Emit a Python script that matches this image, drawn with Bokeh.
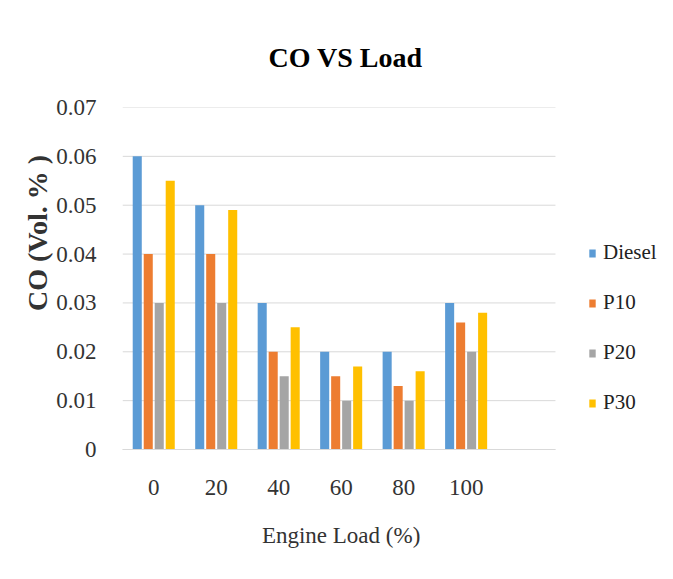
from bokeh.plotting import figure
from bokeh.models import ColumnDataSource, Legend, LegendItem, FixedTicker, NumeralTickFormatter, Range1d
from bokeh.embed import file_html
from bokeh.resources import INLINE

loads = ["0", "20", "40", "60", "80", "100"]
diesel = [0.06, 0.05, 0.03, 0.02, 0.02, 0.03]
p10 = [0.04, 0.04, 0.02, 0.015, 0.013, 0.026]
p20 = [0.03, 0.03, 0.015, 0.01, 0.01, 0.02]
p30 = [0.055, 0.049, 0.025, 0.017, 0.016, 0.028]
series_names = ["Diesel", "P10", "P20", "P30"]
colors = ["#5B9BD5", "#ED7D31", "#A5A5A5", "#FFC000"]
y_ticks = [0, 0.01, 0.02, 0.03, 0.04, 0.05, 0.06, 0.07]

FONT = "Liberation Serif"
X0, X1 = -0.5, 6.43  # extent of the category area (gridlines)

p = figure(width=657, height=563, output_backend="svg", toolbar_location=None,
           x_range=Range1d(X0, 8.063), y_range=Range1d(0, 0.07),
           min_border_left=122, min_border_right=0, min_border_top=107, min_border_bottom=114)
p.title.text = "CO VS Load"
p.title.align = "left"
p.title.offset = 146
p.title.text_font = FONT
p.title.text_font_size = "28px"
p.title.text_font_style = "bold"
p.title.text_color = "#000000"
p.title.standoff = 70
p.outline_line_color = None

# horizontal gridlines limited to the category area
p.segment(x0=[X0] * len(y_ticks), x1=[X1] * len(y_ticks), y0=y_ticks, y1=y_ticks,
          line_color="#d9d9d9", line_width=1)

idx = list(range(len(loads)))
step = 0.176
bw = 0.145
all_series = [diesel, p10, p20, p30]
items = []
for k, (name, vals, col) in enumerate(zip(series_names, all_series, colors)):
    src = ColumnDataSource(dict(x=[i + (k - 1.5) * step for i in idx], top=vals))
    r = p.vbar(x="x", top="top", width=bw, source=src, fill_color=col, line_color=None)
    items.append(LegendItem(label=name, renderers=[r]))

legend = Legend(items=items, location=(466, 34), orientation="vertical",
                label_text_font=FONT, label_text_font_size="21px", label_text_color="#222222",
                glyph_width=8, glyph_height=10, label_standoff=7, label_height=24,
                spacing=25, padding=0, margin=0, border_line_color=None, background_fill_alpha=0)
p.add_layout(legend, "center")

p.xaxis.ticker = FixedTicker(ticks=idx)
p.xaxis.major_label_overrides = {i: l for i, l in zip(idx, loads)}
p.xaxis.bounds = (X0, X1)
p.yaxis.ticker = FixedTicker(ticks=y_ticks)
p.yaxis.formatter = NumeralTickFormatter(format="0.[00]")

for ax in (p.xaxis, p.yaxis):
    ax.major_label_text_font = FONT
    ax.major_label_text_font_size = "23px"
    ax.major_label_text_color = "#333333"
    ax.axis_label_text_font = FONT
    ax.axis_label_text_color = "#333333"
    ax.major_tick_line_color = None
    ax.minor_tick_line_color = None
    ax.axis_line_color = None

p.xaxis.axis_line_color = "#d9d9d9"
p.xaxis.major_label_standoff = 24
p.xaxis.axis_label = "Engine Load (%)" + "\u00a0" * 17
p.xaxis.axis_label_text_font_size = "23px"
p.xaxis.axis_label_text_font_style = "normal"
p.xaxis.axis_label_standoff = 25

p.yaxis.major_label_standoff = 20
p.yaxis.axis_label = "\u00a0" * 13 + "CO (Vol. % )"
p.yaxis.axis_label_text_font_size = "28px"
p.yaxis.axis_label_text_font_style = "bold"
p.yaxis.axis_label_standoff = 0

p.xgrid.grid_line_color = None
p.ygrid.grid_line_color = None

open("out.html", "w").write(file_html(p, INLINE))
